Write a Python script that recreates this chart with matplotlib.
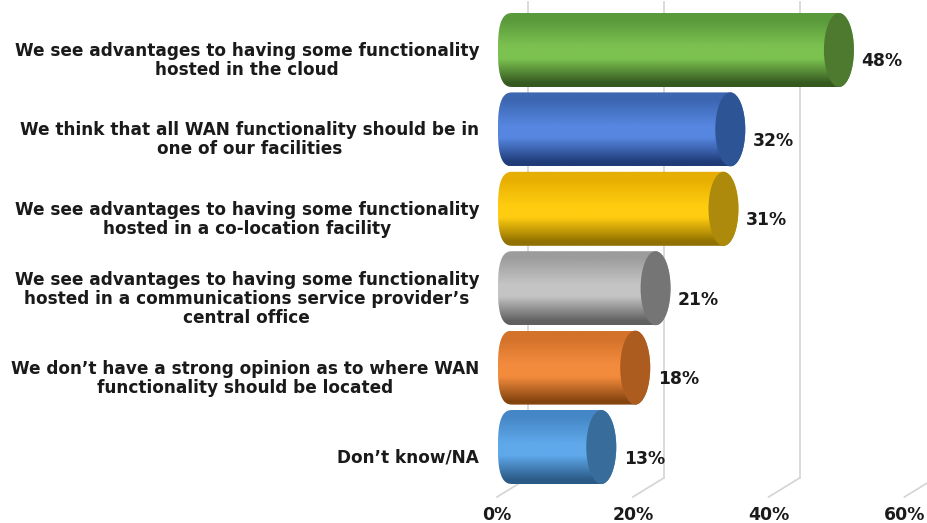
import numpy as np
import matplotlib
matplotlib.use("Agg")
import matplotlib.pyplot as plt
from matplotlib.colors import LinearSegmentedColormap
from matplotlib.patches import Ellipse, Polygon

categories = [
    "We see advantages to having some functionality\nhosted in the cloud",
    "We think that all WAN functionality should be in\none of our facilities",
    "We see advantages to having some functionality\nhosted in a co-location facility",
    "We see advantages to having some functionality\nhosted in a communications service provider\u2019s\ncentral office",
    "We don\u2019t have a strong opinion as to where WAN\nfunctionality should be located",
    "Don\u2019t know/NA",
]
values = [48, 32, 31, 21, 18, 13]
ticks = [0, 20, 40, 60]

# top edge, highlight, bottom edge, end cap
palettes = [
    ("#5a9a3c", "#7cc250", "#35591f", "#4d7a2e"),
    ("#3c66b0", "#5686e0", "#1f3c78", "#2d5596"),
    ("#e6ae00", "#ffcc10", "#8f7000", "#ad8a0c"),
    ("#9c9c9c", "#c4c4c4", "#606060", "#757575"),
    ("#d4722a", "#f38b3d", "#84440f", "#ad5c20"),
    ("#4587c6", "#5fa8ea", "#2a5a86", "#386d9b"),
]

W, H = 927, 523
PX_PER_PCT = 6.79     # horizontal scale
ZERO_PX = 513         # centre of the bar's starting ellipse
ROW_PX = 79.4         # row spacing
FIRST_ROW_PX = 50

fig = plt.figure(figsize=(W / 100, H / 100), dpi=100, facecolor="white")
ax = fig.add_axes([0, 0, 1, 1])
ax.set_xlim(-ZERO_PX / PX_PER_PCT, (W - ZERO_PX) / PX_PER_PCT)
ax.set_ylim((H - FIRST_ROW_PX) / ROW_PX, -FIRST_ROW_PX / ROW_PX)
ax.axis("off")

FONT = dict(family="DejaVu Sans", weight="bold", color="#1a1a1a")
RX = 15 / PX_PER_PCT
RY = 37 / ROW_PX
BACK_DX = 15 / PX_PER_PCT     # depth shift of the back wall
FRONT_DX = -31 / PX_PER_PCT   # floor line run from back to front
TICK_DX = -16 / PX_PER_PCT    # tick labels sit under the front of the floor
WALL_TOP = (2 - FIRST_ROW_PX) / ROW_PX
WALL_BOTTOM = (478 - FIRST_ROW_PX) / ROW_PX
FLOOR_FRONT = (497 - FIRST_ROW_PX) / ROW_PX
GRID = "#d4d4d4"

# back wall gridlines and their floor returns
for t in ticks:
    xb = t + BACK_DX
    ax.plot([xb, xb], [WALL_TOP, WALL_BOTTOM], color=GRID, lw=1.2, zorder=1)
    ax.plot([xb, xb + FRONT_DX], [WALL_BOTTOM, FLOOR_FRONT], color=GRID, lw=1.2, zorder=1)
    ax.text(t + TICK_DX, (515 - FIRST_ROW_PX) / ROW_PX, f"{t}%",
            ha="center", va="center", fontsize=12.4, **FONT)

theta = np.linspace(np.pi / 2, 3 * np.pi / 2, 60)
for i, (label, v, pal) in enumerate(zip(categories, values, palettes)):
    top, light, bottom, cap = pal
    cmap = LinearSegmentedColormap.from_list(
        f"bar{i}", [(0, top), (0.1, top), (0.45, light), (0.62, light), (0.95, bottom), (1, bottom)]
    )
    # cylinder body: squared-off left end joined to a half-ellipse on the right
    c, s = np.cos(theta), np.sin(theta)
    left = np.column_stack([RX * np.sign(c) * np.abs(c) ** 0.72, i + RY * np.sign(s) * np.abs(s) ** 0.72])
    right = np.column_stack([v - RX * c, i - RY * s])
    body = Polygon(np.vstack([left, right]), closed=True, facecolor="none", edgecolor="none", zorder=2)
    ax.add_patch(body)
    grad = np.linspace(0, 1, 128).reshape(-1, 1)
    im = ax.imshow(grad, cmap=cmap, aspect="auto", interpolation="bilinear", zorder=2,
                   extent=(-RX, v + RX, i + RY, i - RY), origin="upper")
    im.set_clip_path(body)
    ax.add_patch(Ellipse((v, i), 2 * RX, 2 * RY, facecolor=cap, edgecolor="none", zorder=3))

    ax.text(v + RX + 7.5 / PX_PER_PCT, i + 11.5 / ROW_PX, f"{v}%",
            ha="left", va="center", fontsize=12.4, zorder=4, **FONT)
    ax.text((479 - ZERO_PX) / PX_PER_PCT, i + 10.5 / ROW_PX, label,
            ha="right", va="center", multialignment="center",
            fontsize=12.2, linespacing=1.06, zorder=4, **FONT)

ax.set_xlim(-ZERO_PX / PX_PER_PCT, (W - ZERO_PX) / PX_PER_PCT)
ax.set_ylim((H - FIRST_ROW_PX) / ROW_PX, -FIRST_ROW_PX / ROW_PX)
fig.savefig("out.png", dpi=100)
